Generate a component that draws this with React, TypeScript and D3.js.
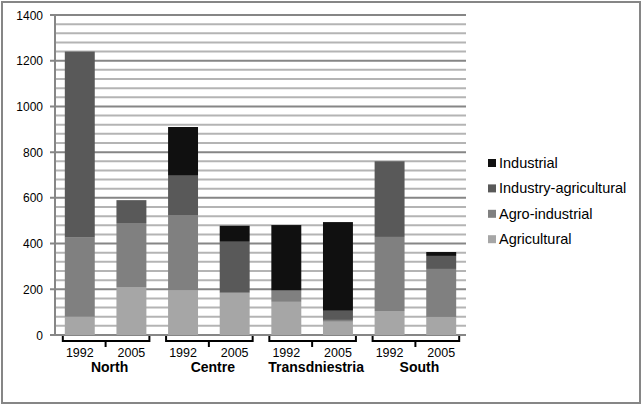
import React from "react";
import * as d3 from "d3";

const regions = ["North", "Centre", "Transdniestria", "South"];
const years = ["1992", "2005"];
const seriesNames = ["Agricultural", "Agro-industrial", "Industry-agricultural", "Industrial"];
// values per bar: North 1992, North 2005, Centre 1992, Centre 2005, Trans 1992, Trans 2005, South 1992, South 2005
const agricultural = [80, 210, 195, 185, 145, 58, 105, 79];
const agroIndustrial = [346, 280, 330, 0, 50, 8, 324, 210];
const industryAgricultural = [814, 100, 172, 223, 0, 40, 331, 57];
const industrial = [0, 0, 213, 70, 286, 388, 0, 17];
const yTicks = [0, 200, 400, 600, 800, 1000, 1200, 1400];

const colors = ["#a6a6a6", "#808080", "#595959", "#101010"];
const legendOrder = [3, 2, 1, 0];

export default function App() {
  const W = 642, H = 405;
  const left = 55, right = 466, top = 15, bottom = 335;
  const barKeys = regions.flatMap((r) => years.map((y) => `${r}|${y}`));
  const x = d3.scaleBand<string>().domain(barKeys).range([left, right]).paddingInner(0.42).paddingOuter(0.19);
  const y = d3.scaleLinear().domain([0, 1400]).range([bottom, top]);

  const table = barKeys.map((k, i) => ({
    key: k,
    s0: agricultural[i],
    s1: agroIndustrial[i],
    s2: industryAgricultural[i],
    s3: industrial[i],
  }));
  const stack = d3.stack<any>().keys(["s0", "s1", "s2", "s3"]);
  const layers = stack(table);

  const minor = d3.range(0, 1401, 40).filter((v) => v % 200 !== 0);
  const font = "'Liberation Sans', Arial, sans-serif";

  return (
    <svg width={W} height={H} style={{ position: "absolute", left: 0, top: 0, background: "#fff" }} fontFamily={font}>
      <rect x={2} y={2} width={638} height={401} fill="#fff" stroke="#868686" strokeWidth={2} />
      {minor.map((v) => (
        <line key={"m" + v} x1={left} x2={right} y1={y(v)} y2={y(v)} stroke="#b4b4b4" strokeWidth={2} />
      ))}
      {yTicks.map((v) => (
        <g key={"t" + v}>
          <line x1={50} x2={right} y1={y(v)} y2={y(v)} stroke="#868686" strokeWidth={2} />
          <text x={43} y={y(v) + 4.5} textAnchor="end" fontSize={12} fill="#000">{v}</text>
        </g>
      ))}
      {layers.map((layer, li) => (
        <g key={"l" + li} fill={colors[li]}>
          {layer.map((d, i) => (
            <rect key={i} x={x(barKeys[i])} width={x.bandwidth()} y={y(d[1])} height={Math.max(0, y(d[0]) - y(d[1]))} />
          ))}
        </g>
      ))}
      <line x1={left} x2={left} y1={top} y2={bottom + 1} stroke="#868686" strokeWidth={2} />
      {barKeys.map((k) => (
        <text key={"y" + k} x={(x(k) as number) + x.bandwidth() / 2} y={357} textAnchor="middle" fontSize={12.5} fill="#000">
          {k.split("|")[1]}
        </text>
      ))}
      {regions.map((r) => {
        const a = x(`${r}|1992`) as number;
        const b = (x(`${r}|2005`) as number) + x.bandwidth();
        const x0 = a - 2, x1 = b + 3;
        const c = (a + b) / 2;
        return (
          <g key={"g" + r}>
            <path d={`M${x0},336 L${x0},341 L${x1},341 L${x1},336`} fill="none" stroke="#000" strokeWidth={2} />
            <line x1={c} x2={c} y1={341} y2={347} stroke="#000" strokeWidth={2} />
            <text x={c + 4} y={372} textAnchor="middle" fontSize={14} fontWeight="bold" fill="#000">{r}</text>
          </g>
        );
      })}
      {legendOrder.map((si, i) => (
        <g key={"lg" + si} transform={`translate(488, ${163 + i * 25.4})`}>
          <rect x={0} y={-4} width={8} height={8} fill={colors[si]} />
          <text x={11} y={5} fontSize={14.5} fill="#000">{seriesNames[si]}</text>
        </g>
      ))}
    </svg>
  );
}
